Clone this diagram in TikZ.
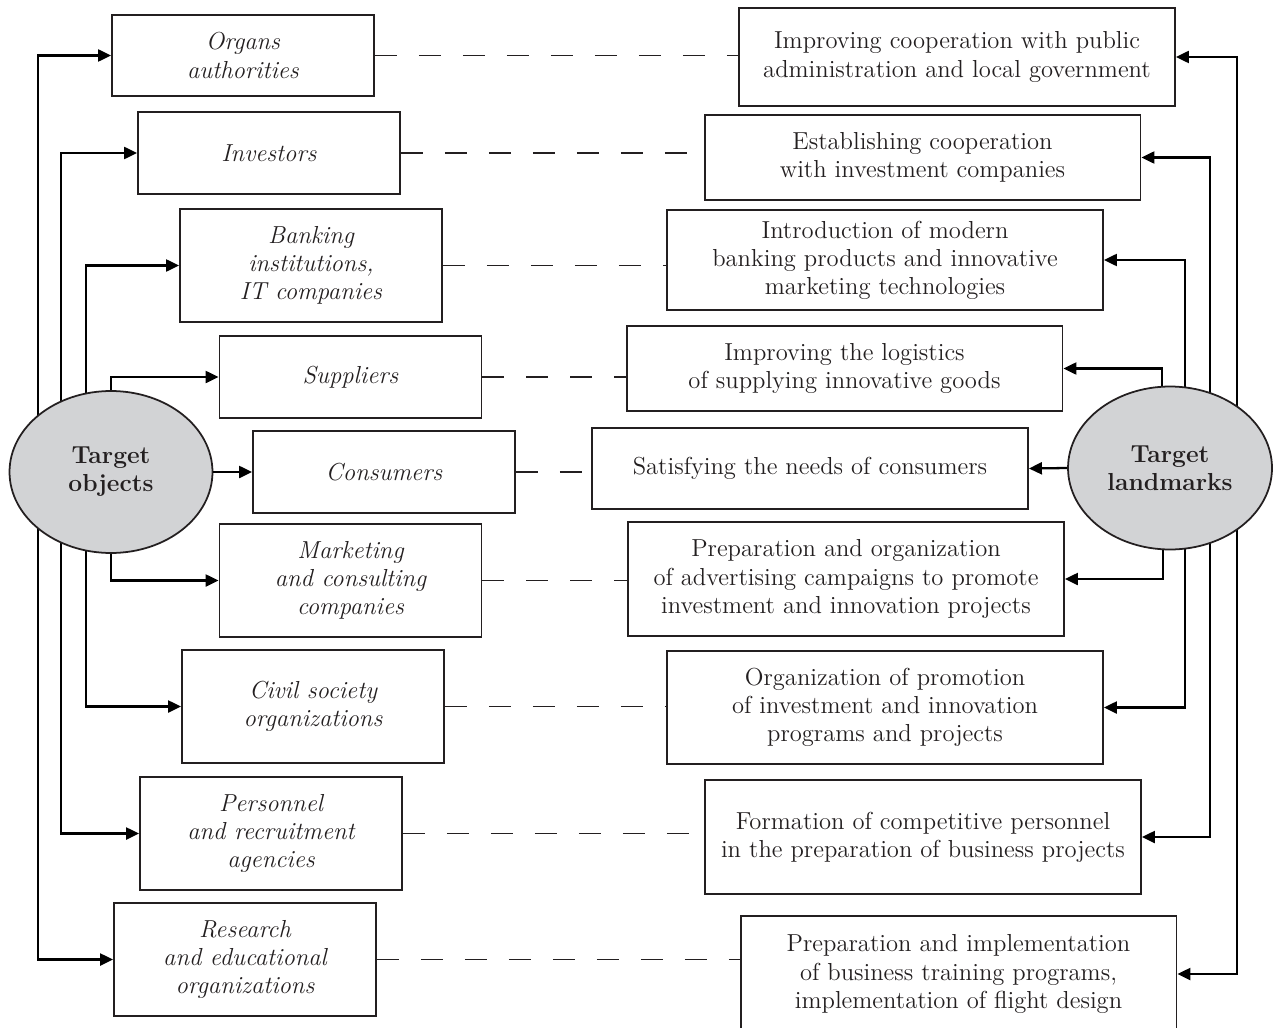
\documentclass[tikz,border=0pt]{standalone}
\usepackage{amsmath}
\usepackage{tikz}
\usetikzlibrary{arrows.meta,positioning,shapes.geometric}
\definecolor{inkgray}{RGB}{35,31,32}
\definecolor{ovalgray}{RGB}{210,211,213}
\tikzset{
    objbox/.style={draw=inkgray,line width=1.1pt,minimum width=5.24cm,inner sep=2pt,align=center,font=\fontsize{14}{16}\selectfont\itshape,text=inkgray},
    aimbox/.style={draw=inkgray,line width=1.1pt,minimum width=8.72cm,inner sep=2pt,align=center,font=\fontsize{14}{16}\selectfont,text=inkgray},
    oval/.style={ellipse,draw=inkgray,line width=1pt,fill=ovalgray,inner sep=0pt,minimum width=4.06cm,minimum height=3.24cm,align=center,font=\fontsize{14}{16}\selectfont\bfseries,text=inkgray},
    link/.style={line width=1.3pt,-{Triangle[length=0.26cm,width=0.24cm]}},
    pair/.style={line width=0.6pt,dash pattern=on 0.44cm off 0.44cm}
}

\begin{document}
\begin{tikzpicture}[x=0.02cm,y=-0.02cm]
                \clip (0,0) rectangle (1273,1027);
                \node[objbox,minimum height=1.62cm] (o1) at (243,55.5) {Organs\\authorities};
                \node[objbox,minimum height=1.64cm] (o2) at (269,153) {Investors};
                \node[objbox,minimum height=2.26cm] (o3) at (311,265.5) {Banking\\institutions,\\IT companies};
                \node[objbox,minimum height=1.64cm] (o4) at (350.5,377) {Suppliers};
                \node[objbox,minimum height=1.64cm] (o5) at (384,472) {Consumers};
                \node[objbox,minimum height=2.26cm] (o6) at (350.5,580.5) {Marketing\\and consulting\\companies};
                \node[objbox,minimum height=2.26cm] (o7) at (313,706.5) {Civil society\\organizations};
                \node[objbox,minimum height=2.26cm] (o8) at (271,833.5) {Personnel\\and recruitment\\agencies};
                \node[objbox,minimum height=2.26cm] (o9) at (245,959.5) {Research\\and educational\\organizations};

                \node[aimbox,minimum height=1.96cm] (g1) at (957,57) {Improving cooperation with public\\administration and local government};
                \node[aimbox,minimum height=1.70cm] (g2) at (922.5,157.5) {Establishing cooperation\\with investment companies};
                \node[aimbox,minimum height=2.00cm] (g3) at (885,260) {Introduction of modern\\banking products and innovative\\marketing technologies};
                \node[aimbox,minimum height=1.70cm] (g4) at (844.5,368.5) {Improving the logistics\\of supplying innovative goods};
                \node[aimbox,minimum height=1.62cm] (g5) at (810,468.5) {Satisfying the needs of consumers};
                \node[aimbox,minimum height=2.28cm] (g6) at (846,579) {Preparation and organization\\of advertising campaigns to promote\\investment and innovation projects};
                \node[aimbox,minimum height=2.26cm] (g7) at (885,707.5) {Organization of promotion\\of investment and innovation\\programs and projects};
                \node[aimbox,minimum height=2.28cm] (g8) at (923,837) {Formation of competitive personnel\\in the preparation of business projects};
                \node[aimbox,minimum height=2.32cm] (g9) at (958.5,974) {Preparation and implementation\\of business training programs,\\implementation of flight design};

                \foreach \i in {1,...,9}
                    \draw[pair,inkgray] (o\i.east) -- (o\i.east -| g\i.west);

                \coordinate (l1) at (38,472);
                \coordinate (l2) at (61,472);
                \coordinate (l3) at (86,472);
                \coordinate (r1) at (1237,468);
                \coordinate (r2) at (1210,468);
                \coordinate (r3) at (1185,468);
                \draw[link] (l1) |- (o1.west);
                \draw[link] (l1) |- (o9.west);
                \draw[link] (l2) |- (o2.west);
                \draw[link] (l2) |- (o8.west);
                \draw[link] (l3) |- (o3.west);
                \draw[link] (l3) |- (o7.west);
                \draw[link] (r1) |- (g1.east);
                \draw[link] (r1) |- (g9.east);
                \draw[link] (r2) |- (g2.east);
                \draw[link] (r2) |- (g8.east);
                \draw[link] (r3) |- (g3.east);
                \draw[link] (r3) |- (g7.east);

                \node[oval] (objects) at (111,472) {Target\\objects};
                \node[oval,minimum width=4.08cm,minimum height=3.26cm] (landmarks) at (1170,468) {Target\\landmarks};

                \draw[link] (objects.north) |- (o4.west);
                \draw[link] (objects.south) |- (o6.west);
                \draw[link] (objects.east) -- (o5.west);
                \draw[link] ([xshift=-0.16cm]landmarks.north) |- (g4.east);
                \draw[link] ([xshift=-0.14cm]landmarks.south) |- (g6.east);
                \draw[link] (landmarks.west) -- (g5.east);
            \end{tikzpicture}
\end{document}
